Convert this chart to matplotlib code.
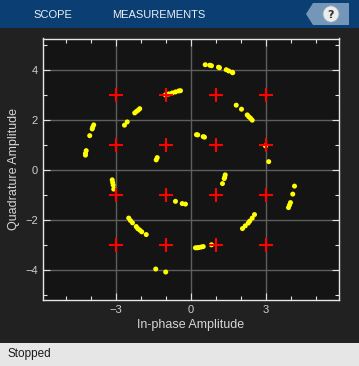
import matplotlib
matplotlib.use("Agg")
import matplotlib.pyplot as plt
from matplotlib.patches import Rectangle, Polygon, Circle
import numpy as np

# Reference constellation (16-QAM)
ref_levels = [-3, -1, 1, 3]

# Received symbols
rx_i = [0.58, 0.76, 0.83, 1.11, 1.15, 1.42, 1.52, 1.66, 1.68,
        -1.01, -0.88, -0.74, -0.61, -0.48, -0.41,
        1.82, 2.03, 2.26, 2.32, 2.39, 2.46,
        2.99, 3.12,
        4.15, 4.08, 3.99, 3.95, 3.91,
        0.23, 0.28, 0.50, 0.55,
        1.38, 1.36, 1.34, 1.27,
        2.55, 2.46, 2.36, 2.30, 2.18, 2.07,
        0.19, 0.26, 0.32, 0.42, 0.50, 0.83,
        -1.40, -1.00,
        -2.48, -2.41, -2.33, -2.18, -2.12, -2.04, -1.96, -1.78,
        -0.61, -0.34, -0.21,
        -3.14, -3.12, -3.10, -3.08,
        -3.88, -3.92, -3.94, -4.04, -4.18, -4.21, -4.21,
        -2.65, -2.54, -2.24, -2.17, -2.10, -2.04,
        -1.34, -1.38]
rx_q = [4.20, 4.18, 4.16, 4.10, 4.08, 4.00, 3.95, 3.90, 3.88,
        2.99, 3.03, 3.07, 3.11, 3.15, 3.16,
        2.58, 2.42, 2.19, 2.12, 2.06, 1.98,
        0.95, 0.32,
        -0.66, -0.98, -1.32, -1.42, -1.52,
        1.40, 1.39, 1.32, 1.30,
        -0.21, -0.30, -0.36, -0.56,
        -1.80, -1.94, -2.06, -2.14, -2.25, -2.36,
        -3.13, -3.13, -3.12, -3.10, -3.08, -3.01,
        -3.98, -4.10,
        -1.94, -2.04, -2.13, -2.28, -2.36, -2.42, -2.49, -2.60,
        -1.27, -1.36, -1.38,
        -0.41, -0.52, -0.62, -0.78,
        1.79, 1.70, 1.63, 1.36, 0.76, 0.65, 0.58,
        1.78, 1.91, 2.27, 2.33, 2.38, 2.44,
        0.48, 0.39]

x_major = [-3, 0, 3]
x_minor = [-5, -4, -2, -1, 1, 2, 4, 5]
y_major = [-4, -2, 0, 2, 4]
y_minor = [-5, -3, -1, 1, 3, 5]

W, H = 359, 366
fig = plt.figure(figsize=(W / 100, H / 100), dpi=100)
fig.patch.set_facecolor('#212121')

def fx(px):
    return px / W

def fy(py):
    return 1 - py / H

# Toolbar
fig.patches.append(Rectangle((0, fy(28)), 1, 28 / H, transform=fig.transFigure,
                             facecolor='#0b3f73', edgecolor='none', zorder=0))
fig.text(fx(53), fy(15), 'SCOPE', color='#e8eef5', fontsize=8,
         family='Liberation Sans', ha='center', va='center')
fig.text(fx(159), fy(15), 'MEASUREMENTS', color='#e8eef5', fontsize=8,
         family='Liberation Sans', ha='center', va='center')
tag = [(fx(306), fy(14)), (fx(313), fy(3)), (fx(349), fy(3)),
       (fx(349), fy(25)), (fx(313), fy(25))]
fig.patches.append(Polygon(tag, closed=True, transform=fig.transFigure,
                           facecolor='#7396b9', edgecolor='none', zorder=1))
fig.patches.append(Circle((fx(331), fy(14)), 8 / W, transform=fig.transFigure,
                          facecolor='#ececec', edgecolor='#9aa8b5', lw=0.6, zorder=2))
fig.text(fx(331), fy(14.5), '?', color='#333333', fontsize=8, fontweight='bold',
         family='DejaVu Sans', ha='center', va='center', zorder=3)

# Status bar
fig.patches.append(Rectangle((0, 0), 1, 23 / H, transform=fig.transFigure,
                             facecolor='#e6e6e6', edgecolor='none', zorder=0))
fig.text(fx(8), fy(354), 'Stopped', color='#1a1a1a', fontsize=8.5,
         family='Liberation Sans', ha='left', va='center')

# Axes
left, right, top, bottom = 42.7, 339, 38.5, 300
ax = fig.add_axes([fx(left), fy(bottom), (right - left) / W, (bottom - top) / H])
ax.set_facecolor('#141414')
ax.set_xlim(-5.92, 5.93)
ax.set_ylim(-5.22, 5.25)

ax.set_xticks(x_major)
ax.set_xticks(x_minor, minor=True)
ax.set_yticks(y_major)
ax.set_yticks(y_minor, minor=True)
ax.grid(True, which='major', color='#5e5e5e', lw=1.0)
ax.set_axisbelow(True)
ax.tick_params(which='both', direction='in', top=True, right=True,
               colors='#e0e0e0', labelcolor='#cfcfcf', labelsize=8, width=0.8)
ax.tick_params(which='major', length=5)
ax.tick_params(which='minor', length=3)
for lab in ax.get_xticklabels() + ax.get_yticklabels():
    lab.set_family('Liberation Sans')
for s in ax.spines.values():
    s.set_color('#e6e6e6')
    s.set_linewidth(1.0)

ax.scatter(rx_i, rx_q, s=13, c='#ffff00', edgecolors='none', zorder=3)
ref_i = [i for i in ref_levels for q in ref_levels]
ref_q = [q for i in ref_levels for q in ref_levels]
ax.plot(ref_i, ref_q, linestyle='none', marker='+', color='#ff0000',
        markersize=9.5, markeredgewidth=1.5, zorder=4)

ax.set_xlabel('In-phase Amplitude', color='#d6d6d6', fontsize=9,
              family='Liberation Sans', labelpad=3)
ax.set_ylabel('Quadrature Amplitude', color='#d6d6d6', fontsize=9,
              family='Liberation Sans', labelpad=4)

fig.savefig('out.png', dpi=100, facecolor=fig.get_facecolor())
